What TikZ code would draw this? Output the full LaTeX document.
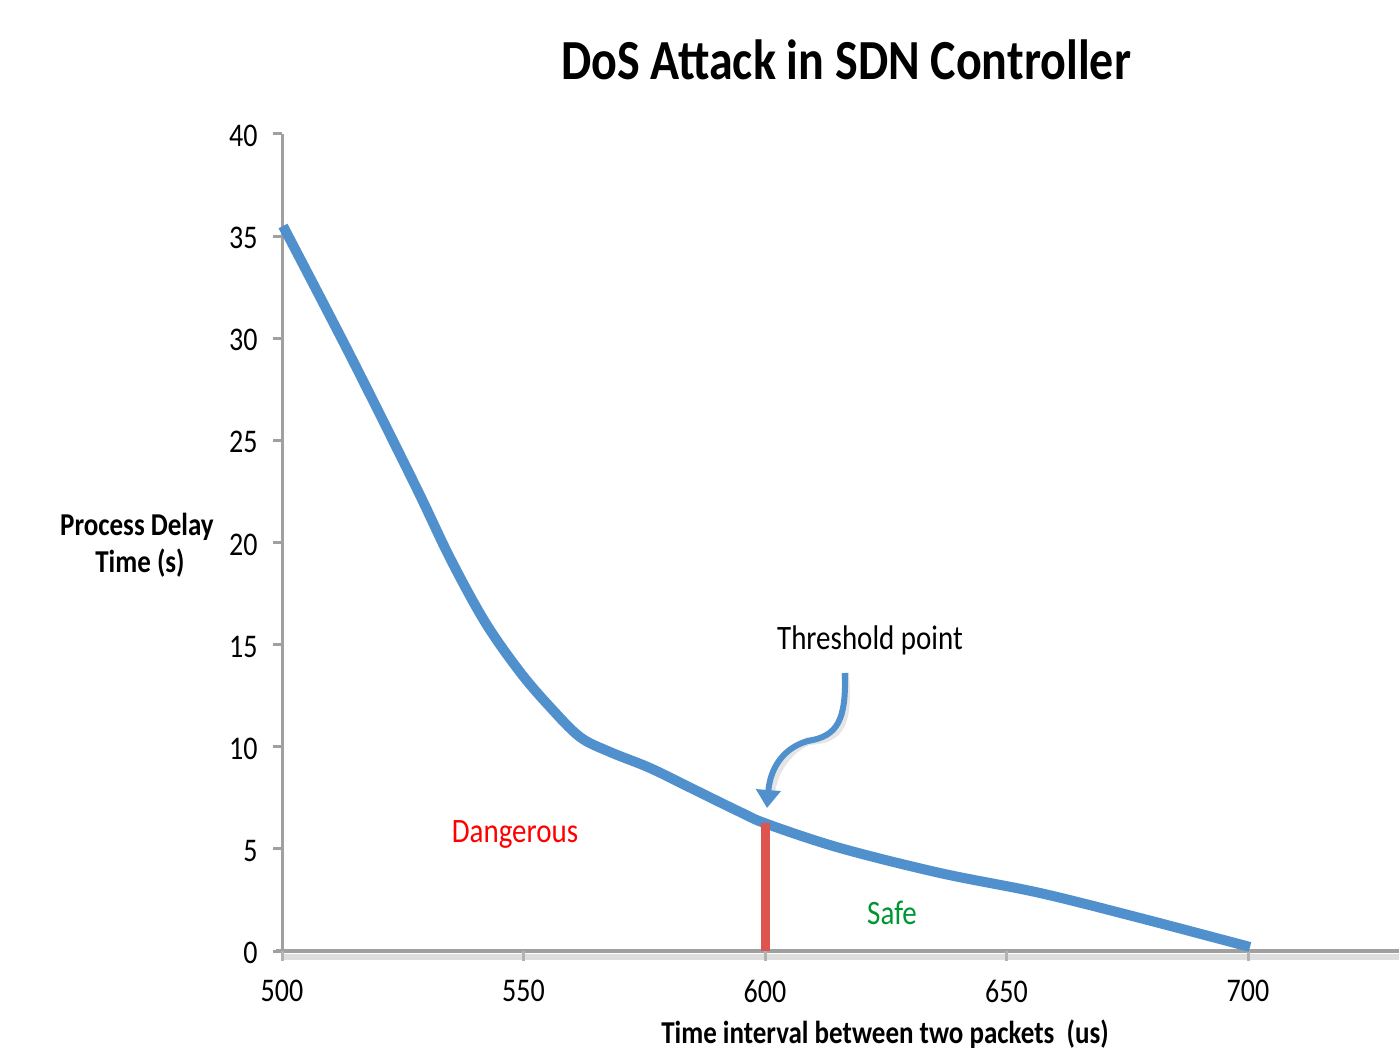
\documentclass[tikz,border=0pt]{standalone}
\usepackage{fontspec}
\setmainfont{Carlito}
\usepackage{graphicx}
\usetikzlibrary{arrows.meta}
\definecolor{curveblue}{RGB}{80,145,205}
\definecolor{axisgray}{RGB}{160,160,160}
\definecolor{shadowgray}{RGB}{222,222,222}
\definecolor{threshred}{RGB}{222,85,80}
\definecolor{dangerred}{RGB}{255,0,0}
\definecolor{safegreen}{RGB}{0,150,50}
\newcommand{\vs}[1]{\scalebox{1}[1.18]{#1}}
\tikzset{
  ticklbl/.style={inner sep=0pt, font=\fontsize{14}{16}\selectfont},
  axislbl/.style={inner sep=0pt, font=\fontsize{13.5}{16}\selectfont\bfseries},
  annot/.style={inner sep=0pt, font=\fontsize{14.5}{17}\selectfont},
  axisline/.style={draw=axisgray, line width=1.5pt},
}
\begin{document}
\begin{tikzpicture}[x=0.5pt,y=-0.5pt]
\useasboundingbox (0,0) rectangle (1399,1053);
\fill[white] (0,0) rectangle (1399,1053);

% title
\node[inner sep=0pt, anchor=base, font=\fontsize{24}{28}\selectfont\bfseries] (title) at (846,80) {\vs{DoS Attack in SDN Controller}};

% axes
\draw[shadowgray, line width=3pt] (284,957) -- (1399,957);
\draw[axisline] (282,134) -- (282,952);
\foreach \v in {0,5,...,40} {
  \draw[axisline] (273,{951-\v*20.425}) -- (282,{951-\v*20.425});
  \node[ticklbl, anchor=east] (yt\v) at (258,{953-\v*20.425}) {\vs{\v}};
}
\draw[draw=axisgray, line width=2pt] (276,951) -- (1399,951);
\foreach \x/\lab in {282/500, 523.5/550, 765/600, 1006.5/650, 1248/700} {
  \draw[draw=axisgray!80, line width=1.5pt] (\x,951) -- (\x,961);
  \node[ticklbl] (xt\lab) at (\x,991) {\vs{\lab}};
}

% axis labels
\node[axislbl] (ylab1) at (137,527) {\vs{Process Delay}};
\node[axislbl] (ylab2) at (140,563) {\vs{Time (s)}};
\node[axislbl, anchor=base] (xlab) at (885,1043) {\vs{Time interval between two packets\ \ (us)}};

% curve
\draw[curveblue, line width=5pt, line cap=butt, line join=round]
  plot[smooth, tension=0.55] coordinates {
  (283,226) (350,355) (415,485) (450,558) (485,622) (520,672)
  (550,707) (580,737) (610,752) (650,768) (695,790) (740,812) (767,824)
  (840,848) (940,873) (1040,893) (1140,918) (1250,947)};

% threshold line
\coordinate (thrtop) at (765,823);
\coordinate (thrbot) at (765,951);
\draw[threshred, line width=4.5pt] (thrbot) -- (thrtop);

% labels
\node[annot, text=dangerred] (danger) at (515,834) {\vs{Dangerous}};
\node[annot, text=safegreen] (safe) at (892,913) {\vs{Safe}};
\node[annot] (thr) at (870,640) {\vs{Threshold point}};

% threshold arrow
\coordinate (arrstart) at (845,673);
\coordinate (arrmid) at (808,741);
\coordinate (arrend) at (767,808);
\draw[black, opacity=0.1, line width=4pt, shift={(3,4)}]
  (arrstart) .. controls (846,720) and (838,736) .. (arrmid)
  .. controls (782,748) and (770,770) .. (768,790);
\draw[curveblue, line width=3pt, -{Triangle[width=12pt,length=9pt]}]
  (arrstart) .. controls (846,720) and (838,736) .. (arrmid)
  .. controls (782,748) and (770,770) .. (arrend);
\end{tikzpicture}
\end{document}
